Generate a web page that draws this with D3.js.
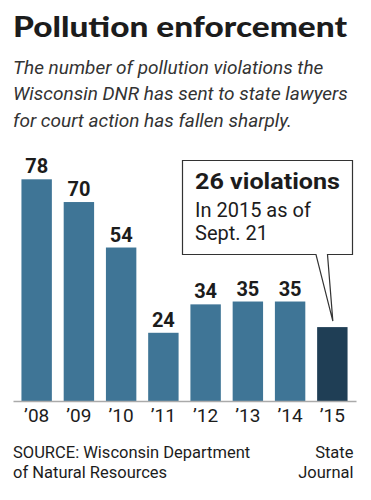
<!DOCTYPE html>
<html>
<head>
<meta charset="utf-8">
<script src="https://cdn.jsdelivr.net/npm/d3@7"></script>
<style>
  body { margin: 0; background: #fff; }
  text { font-family: Roboto, "Noto Sans", sans-serif; fill: #1c1c1c; }
</style>
</head>
<body>
<script>
const years = ["2008", "2009", "2010", "2011", "2012", "2013", "2014", "2015"];
const yearLabels = ["’08", "’09", "’10", "’11", "’12", "’13", "’14", "’15"];
const values = [78, 70, 54, 24, 34, 35, 35, 26];

const title = "Pollution enforcement";
const subtitle = [
  "The number of pollution violations the",
  "Wisconsin DNR has sent to state lawyers",
  "for court action has fallen sharply."
];
const calloutHead = "26 violations";
const calloutBody = ["In 2015 as of", "Sept. 21"];
const source = ["SOURCE: Wisconsin Department", "of Natural Resources"];
const credit = ["State", "Journal"];

const width = 371,
  height = 500;
const margin = { left: 13, right: 15, baseline: 401 };

const svg = d3
  .select("body")
  .append("svg")
    .attr("width", width)
    .attr("height", height);

const x = d3
  .scaleBand()
  .domain(years)
  .range([margin.left, width - margin.right])
  .paddingInner(0.28)
  .paddingOuter(0.2);

const y = d3.scaleLinear([0, 78], [margin.baseline, 179.3]);

// header
svg
  .append("text")
    .attr("x", 13)
    .attr("y", 36.5)
    .attr("textLength", 334)
    .attr("lengthAdjust", "spacingAndGlyphs")
    .style("font-family", "Lato, sans-serif")
    .style("font-weight", 900)
    .style("font-size", "29px")
    .text(title);

svg
  .append("g")
  .selectAll("text")
  .data(subtitle)
  .join("text")
    .attr("x", 13)
    .attr("y", (d, i) => 74 + i * 26.3)
    .style("font-style", "italic")
    .style("font-size", "19px")
    .style("fill", "#333")
    .text(d => d);

// bars
svg
  .append("g")
  .selectAll("rect")
  .data(values)
  .join("rect")
    .attr("x", (d, i) => x(years[i]))
    .attr("width", x.bandwidth())
    .attr("y", d => y(d))
    .attr("height", d => y(0) - y(d))
    .attr("fill", (d, i) => (i === values.length - 1 ? "#1f3e55" : "#3f7596"));

svg
  .append("g")
  .selectAll("text")
  .data(values.slice(0, -1))
  .join("text")
    .attr("x", (d, i) => x(years[i]) + x.bandwidth() / 2)
    .attr("y", d => y(d) - 6)
    .attr("text-anchor", "middle")
    .style("font-weight", 700)
    .style("font-size", "20px")
    .text(d => d);

// axis
const axis = svg
  .append("g")
    .attr("transform", "translate(0," + margin.baseline + ")")
    .call(d3.axisBottom(x).tickSize(0).tickPadding(0).tickFormat((d, i) => yearLabels[i]));

axis.select(".domain").attr("stroke", "#aaa").attr("stroke-width", 1.5);
axis
  .selectAll("text")
    .attr("dy", null)
    .attr("y", 21)
    .style("font-size", "19px")
    .style("font-family", "Roboto, sans-serif")
    .attr("fill", "#1c1c1c");

// callout
const last = years[years.length - 1];
const tipX = x(last) + x.bandwidth() / 2;
const box = { x0: 182.5, y0: 160.5, x1: 352.5, y1: 254.5 };

svg
  .append("path")
    .attr(
      "d",
      d3.line()([
        [box.x0, box.y0],
        [box.x1, box.y0],
        [box.x1, box.y1],
        [327.5, box.y1],
        [tipX + 0.5, y(values[values.length - 1]) - 6],
        [316, box.y1],
        [box.x0, box.y1]
      ]) + "Z"
    )
    .attr("fill", "#fff")
    .attr("stroke", "#333")
    .attr("stroke-width", 1.2);

svg
  .append("text")
    .attr("x", 195)
    .attr("y", 188.5)
    .attr("textLength", 145)
    .attr("lengthAdjust", "spacingAndGlyphs")
    .style("font-weight", 700)
    .style("font-size", "22px")
    .text(calloutHead);

svg
  .append("g")
  .selectAll("text")
  .data(calloutBody)
  .join("text")
    .attr("x", 195)
    .attr("y", (d, i) => 216.7 + i * 23.3)
    .style("font-size", "20px")
    .text(d => d);

// footer
svg
  .append("g")
  .selectAll("text")
  .data(source)
  .join("text")
    .attr("x", 13)
    .attr("y", (d, i) => 458.3 + i * 20)
    .style("font-size", "16.5px")
    .text(d => d);

svg
  .append("g")
  .selectAll("text")
  .data(credit)
  .join("text")
    .attr("x", 353.5)
    .attr("y", (d, i) => 458.3 + i * 20)
    .attr("text-anchor", "end")
    .style("font-size", "16.5px")
    .text(d => d);
</script>
</body>
</html>
